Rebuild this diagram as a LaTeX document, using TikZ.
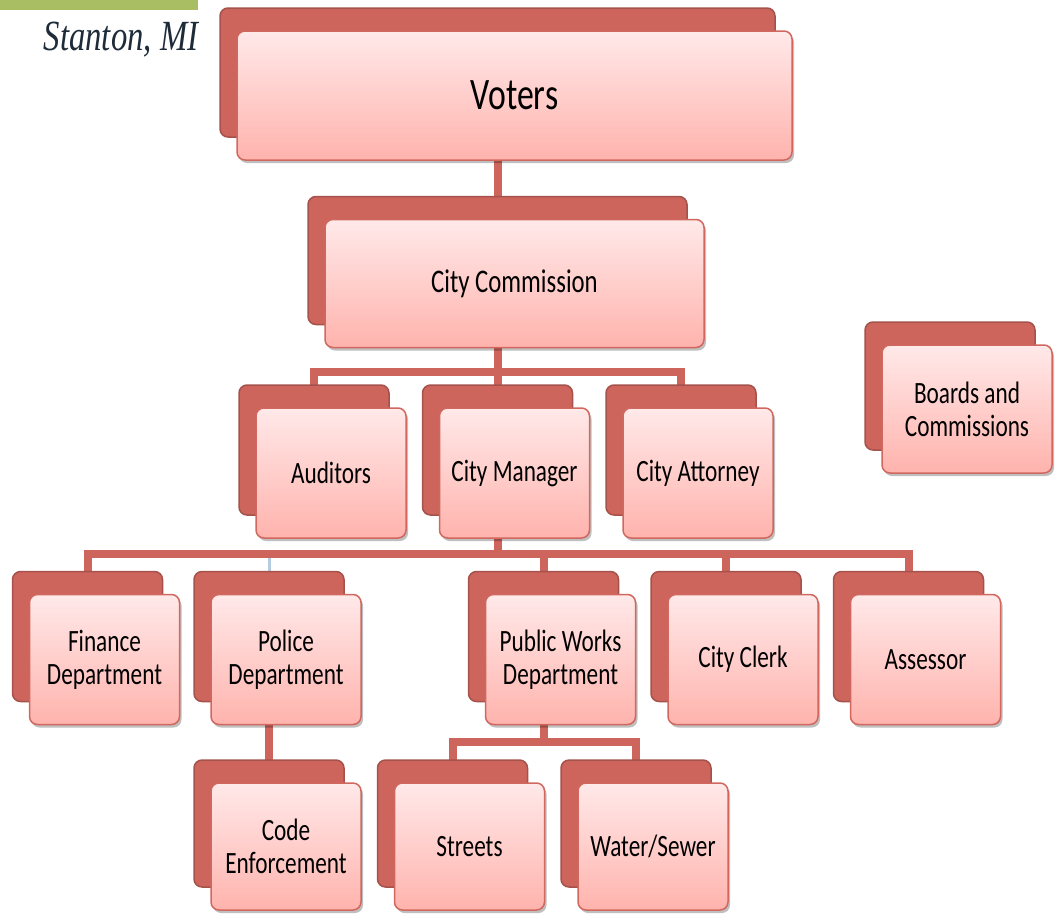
\documentclass[tikz,border=0pt]{standalone}
\usepackage{fontspec}
\setmainfont[FakeStretch=0.75]{Carlito}
\newfontfamily\titlefont[FakeStretch=0.76]{Liberation Serif}
\usepackage{xcolor}
\usepackage{tikz}
\usetikzlibrary{positioning,shadows,backgrounds}

\definecolor{backred}{HTML}{CD655C}
\definecolor{backedge}{HTML}{A4524B}
\definecolor{frontedge}{HTML}{D0685F}
\definecolor{fronttop}{HTML}{FFE9E9}
\definecolor{frontbot}{HTML}{FFB3AD}
\definecolor{titlegreen}{HTML}{A9BD63}
\definecolor{titleink}{HTML}{1E2B38}
\definecolor{paleblue}{HTML}{B5CCE0}

\begin{document}
\begin{tikzpicture}[
  x=1pt, y=-1pt,
  box/.style={rectangle, rounded corners=8pt, draw=frontedge, line width=1.5pt,
    top color=fronttop, bottom color=frontbot, minimum width=150pt, minimum height=130pt,
    align=center, font=\fontsize{31}{33}\selectfont,
    general shadow={fill=backred, draw=backedge, line width=1.5pt, shadow xshift=-17pt, shadow yshift=23pt},
    drop shadow={fill=black, opacity=.25, shadow xshift=2pt, shadow yshift=-3pt}},
  link/.style={draw=backred, line width=8pt},
  faint/.style={draw=paleblue, line width=3pt}
]
\useasboundingbox (0,0) rectangle (1057,919);

% title
\fill[titlegreen] (0,0) rectangle (198,10);
\node[text=titleink, font=\titlefont\itshape\fontsize{43}{45}\selectfont] (title) at (121,40) {Stanton, MI};

\node[box, minimum width=555pt, minimum height=129pt, font=\fontsize{45}{48}\selectfont] (voters) at (514.5,95.5) {Voters};
\node[box, minimum width=379pt, minimum height=128pt, font=\fontsize{33}{35}\selectfont, below=58pt of voters] (comm) {City Commission};
\node[box, below=59pt of comm] (mgr)  {City Manager};
\node[box, left=32pt of mgr]   (aud)  {Auditors};
\node[box, right=32pt of mgr]  (att)  {City Attorney};
\node[box, minimum width=170pt, minimum height=128pt] (boards) at (967,409) {Boards and\\Commissions};

\node[box, below=55pt of mgr, xshift=46pt] (pw) {Public Works\\Department};
\node[box, right=31pt of pw]    (clerk) {City Clerk};
\node[box, right=31pt of clerk] (assr)  {Assessor};
\node[box, left=123pt of pw]    (pol)   {Police\\Department};
\node[box, left=30pt of pol]    (fin)   {Finance\\Department};

\node[box, minimum height=127pt, below=57pt of pol] (code) {Code\\Enforcement};
\node[box, minimum height=127pt, below=57pt of pw, xshift=-91pt] (str) {Streets};
\node[box, minimum height=127pt, right=32pt of str] (ws) {Water/Sewer};

\begin{scope}[on background layer]
\draw[link] ([xshift=-17pt]voters.south) -- ([xshift=-17pt]comm.north);
\draw[link] ([xshift=-17pt]comm.south) -- ++(0,24) coordinate (bar1);
\draw[link] ([xshift=-17pt]aud.north) |- (bar1) -| ([xshift=-17pt]att.north);
\draw[link] (bar1) -- ([xshift=-17pt]mgr.north);
\draw[link] ([xshift=-17pt]mgr.south) -- ++(0,15) coordinate (bar2);
\draw[faint] ([xshift=-17pt]pol.north) |- (bar2);
\draw[link] ([xshift=-17pt]fin.north) |- (bar2) -| ([xshift=-17pt]assr.north);
\draw[link] (bar2) -| ([xshift=-17pt]pw.north);
\draw[link] (bar2) -| ([xshift=-17pt]clerk.north);
\draw[link] ([xshift=-17pt]pol.south) -- ([xshift=-17pt]code.north);
\draw[link] ([xshift=-17pt]pw.south) -- ++(0,17) coordinate (bar3);
\draw[link] ([xshift=-17pt]str.north) |- (bar3) -| ([xshift=-17pt]ws.north);
\end{scope}
\end{tikzpicture}
\end{document}
